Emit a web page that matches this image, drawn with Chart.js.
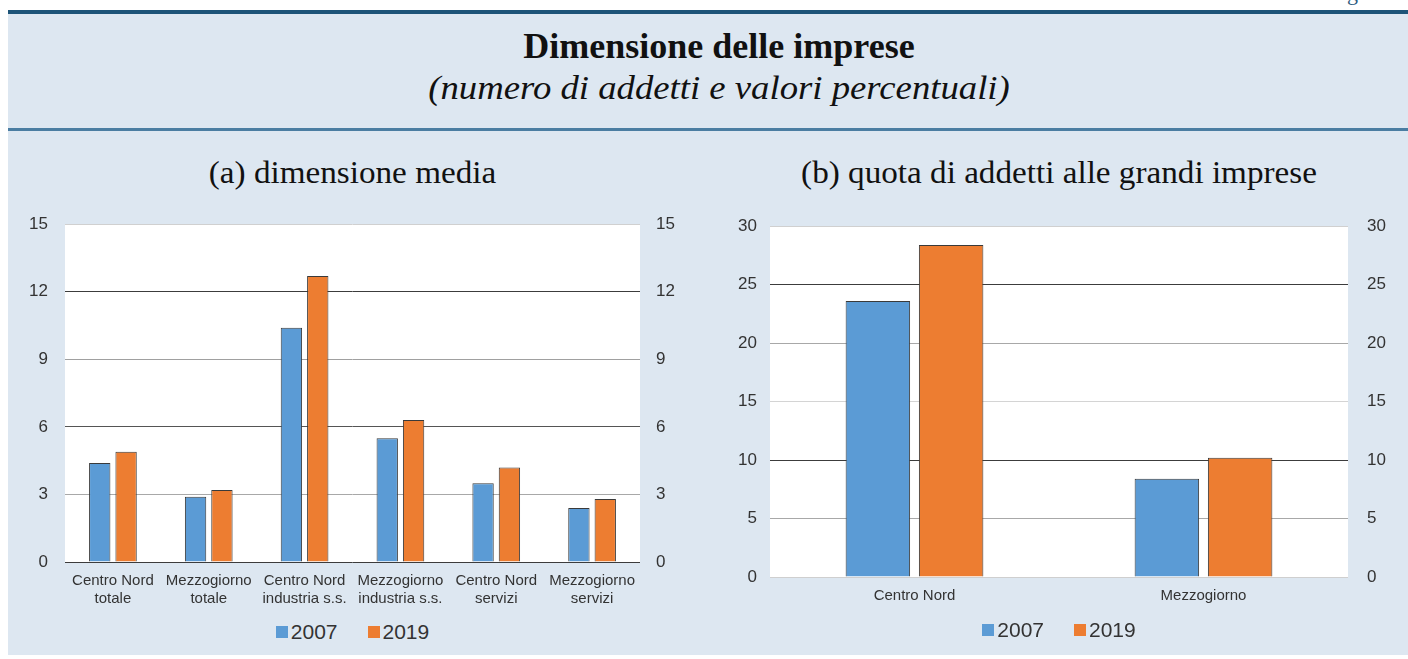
<!DOCTYPE html>
<html>
<head>
<meta charset="utf-8">
<script src="https://cdn.jsdelivr.net/npm/chart.js@4.4.1/dist/chart.umd.min.js"></script>
<style>
  html, body { margin: 0; padding: 0; background: #fff; }
  body { width: 1408px; height: 659px; position: relative; overflow: hidden; font-family: "Liberation Sans", Arial, sans-serif; }
  .fig { position: absolute; top: -20px; right: 22px; font: 22px "Liberation Serif", serif; color: #2a5a80; }
  .topline { position: absolute; left: 8px; right: 0; top: 10px; height: 4px; background: #1d5478; }
  .panel { position: absolute; left: 8px; right: 0; top: 14px; height: 641px; background: #dde7f1; }
  .midline { position: absolute; left: 8px; right: 0; top: 128px; height: 3px; background: #4a7da2; }
  .title { position: absolute; left: 30px; right: 0; text-align: center; line-height: 1; font-family: "Liberation Serif", "Times New Roman", serif; color: #111; white-space: nowrap; }
  .t1 { top: 28px; font-size: 36px; font-weight: bold; }
  .t2 { top: 71px; font-size: 34px; font-style: italic; transform: scaleX(1.08); }
  .sub { position: absolute; top: 157px; text-align: center; font: 31px/1 "Liberation Serif", serif; color: #111; transform: scaleX(1.07); white-space: nowrap; }
  canvas { position: absolute; }
  .legend { position: absolute; display: flex; justify-content: center; align-items: center; height: 26px; font-size: 21px; color: #333; }
  .legend .item { display: flex; align-items: center; margin: 0 15px; }
  .legend .box { width: 12px; height: 12px; margin-right: 3px; }
</style>
</head>
<body>
<div class="fig">Figura</div>
<div class="panel"></div>
<div class="topline"></div>
<div class="midline"></div>
<div class="title t1">Dimensione delle imprese</div>
<div class="title t2">(numero di addetti e valori percentuali)</div>
<div class="sub" style="left:65px;width:575px;">(a) dimensione media</div>
<div class="sub" style="left:770px;width:578px;">(b) quota di addetti alle grandi imprese</div>

<canvas id="chartA" width="700" height="413" style="left:0;top:197px;"></canvas>
<canvas id="chartB" width="708" height="428" style="left:700px;top:197px;"></canvas>
<div class="legend" id="legendA" style="left:65px;width:575px;top:619px;"></div>
<div class="legend" id="legendB" style="left:770px;width:578px;top:617px;"></div>

<script>
// panel (a): average firm size
const catsA = [
  ["Centro Nord", "totale"],
  ["Mezzogiorno", "totale"],
  ["Centro Nord", "industria s.s."],
  ["Mezzogiorno", "industria s.s."],
  ["Centro Nord", "servizi"],
  ["Mezzogiorno", "servizi"]
];
const a2007 = [4.4, 2.9, 10.4, 5.5, 3.5, 2.4];
const a2019 = [4.9, 3.2, 12.7, 6.3, 4.2, 2.8];
const ticksA = [0, 3, 6, 9, 12, 15];

// panel (b): share of employees in large firms
const catsB = ["Centro Nord", "Mezzogiorno"];
const b2007 = [23.6, 8.4];
const b2019 = [28.4, 10.2];
const ticksB = [0, 5, 10, 15, 20, 25, 30];

const seriesNames = ["2007", "2019"];
const BLUE = "#5b9bd5";
const ORANGE = "#ed7d31";

// gridline shades as they appear in the scan
const gridShadeA = { 0: "#3c3c3c", 3: "#a8a8a8", 6: "#555555", 9: "#a0a0a0", 12: "#3c3c3c", 15: "#d0d0d0" };
const gridShadeB = { 0: "#cfcfcf", 5: "#a8a8a8", 10: "#3c3c3c", 15: "#d4d4d4", 20: "#a8a8a8", 25: "#3c3c3c", 30: "#d0d0d0" };

Chart.defaults.font.family = '"Liberation Sans", Arial, sans-serif';
Chart.defaults.color = "#333";

const whitePlot = {
  id: "whitePlot",
  beforeDraw(chart) {
    const { ctx, chartArea: a } = chart;
    ctx.save();
    ctx.fillStyle = "#fff";
    ctx.fillRect(a.left, a.top, a.right - a.left, a.bottom - a.top);
    ctx.restore();
  }
};

function makeChart(id, cats, d1, d2, ticks, shade, opts) {
  const max = ticks[ticks.length - 1];
  const step = ticks[1] - ticks[0];
  const yTicks = (pad) => ({
    stepSize: step,
    padding: pad,
    color: "#333",
    font: { size: 17 }
  });
  return new Chart(document.getElementById(id), {
    type: "bar",
    data: {
      labels: cats,
      datasets: [
        { label: seriesNames[0], data: d1, backgroundColor: BLUE, borderColor: "#3a3a3a", borderWidth: 1, yAxisID: "y" },
        { label: seriesNames[1], data: d2, backgroundColor: ORANGE, borderColor: "#3a3a3a", borderWidth: 1, yAxisID: "y" }
      ]
    },
    options: {
      responsive: false,
      animation: false,
      layout: { padding: 0 },
      datasets: { bar: { categoryPercentage: opts.cat, barPercentage: opts.bar } },
      plugins: { legend: { display: false }, tooltip: { enabled: false } },
      scales: {
        x: {
          grid: { display: false },
          border: { display: false },
          ticks: { padding: opts.xPad, font: { size: 15, lineHeight: 1.2 }, color: "#333", maxRotation: 0, autoSkip: false },
          afterFit: (s) => { s.height = 48; }
        },
        y: {
          position: "left",
          min: 0, max: max,
          border: { display: false },
          grid: {
            drawTicks: false,
            lineWidth: 1,
            color: (c) => shade[c.tick.value] || "#aaa"
          },
          ticks: yTicks(opts.leftPad),
          afterFit: (s) => { s.width = opts.leftW; }
        },
        y2: {
          position: "right",
          min: 0, max: max,
          border: { display: false },
          grid: { display: false, drawTicks: false },
          ticks: yTicks(opts.rightPad),
          afterFit: (s) => { s.width = opts.rightW; }
        }
      }
    },
    plugins: [whitePlot]
  });
}

function buildLegend(chart, elId) {
  const el = document.getElementById(elId);
  chart.data.datasets.forEach((ds) => {
    const item = document.createElement("div");
    item.className = "item";
    item.innerHTML = `<span class="box" style="background:${ds.backgroundColor}"></span><span>${ds.label}</span>`;
    el.appendChild(item);
  });
}

const chartA = makeChart("chartA", catsA, a2007, a2019, ticksA, gridShadeA,
  { cat: 0.55, bar: 0.81, xPad: 2, leftW: 65, rightW: 60, leftPad: 17, rightPad: 16 });
const chartB = makeChart("chartB", catsB, b2007, b2019, ticksB, gridShadeB,
  { cat: 0.507, bar: 0.88, xPad: 2, leftW: 70, rightW: 60, leftPad: 13, rightPad: 19 });

buildLegend(chartA, "legendA");
buildLegend(chartB, "legendB");
</script>
</body>
</html>
